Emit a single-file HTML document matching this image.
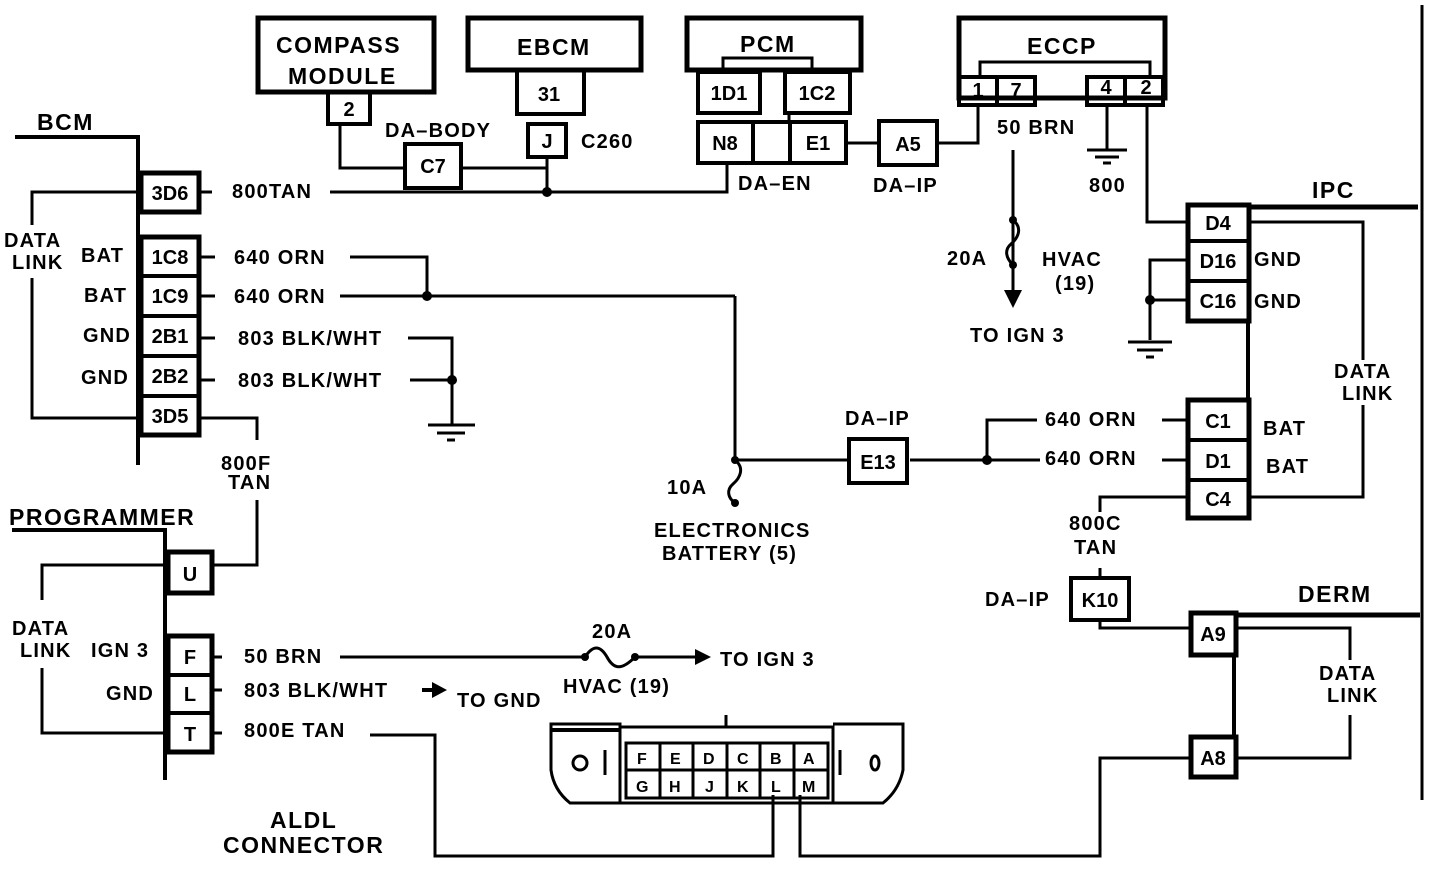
<!DOCTYPE html>
<html><head><meta charset="utf-8"><style>
html,body{margin:0;padding:0;background:#fff;}
svg{display:block;}
text{font-family:"Liberation Sans",sans-serif;font-weight:bold;fill:#000;}
.l{font-size:20px;letter-spacing:1.2px;}
.t{font-size:23px;letter-spacing:1.5px;}
.p{font-size:20px;text-anchor:middle;}
</style></head><body>
<svg width="1440" height="884" viewBox="0 0 1440 884" xmlns="http://www.w3.org/2000/svg">
<g fill="none" stroke="#000" stroke-width="3">
<rect x="258" y="18" width="176" height="74" stroke-width="5"/>
<rect x="328" y="92" width="42" height="32" stroke-width="4"/>
<rect x="468" y="18" width="173" height="52" stroke-width="5"/>
<rect x="517" y="70" width="67" height="44" stroke-width="4"/>
<rect x="528" y="124" width="38" height="33" stroke-width="4"/>
<rect x="405" y="144" width="56" height="44" stroke-width="4"/>
<path d="M340 124V168H405M461 168H547M547 157V192"/>
<path d="M330 192H727V163" stroke-width="3"/>
<rect x="687" y="18" width="174" height="52" stroke-width="5"/>
<path d="M723 72V58H812V72"/>
<rect x="698" y="72" width="62" height="41" stroke-width="4"/>
<rect x="785" y="72" width="65" height="41" stroke-width="4"/>
<path d="M789 113V122"/>
<rect x="698" y="122" width="148" height="41" stroke-width="4"/>
<path d="M753 122V163M790 122V163" stroke-width="4"/>
<path d="M846 143H879"/>
<rect x="879" y="121" width="58" height="44" stroke-width="4"/>
<path d="M937 143H978V104"/>
<rect x="959" y="18" width="206" height="80" stroke-width="5"/>
<path d="M980 77V62H1150V77"/>
<rect x="959" y="77" width="76" height="28" stroke-width="4"/>
<path d="M997 77V105" stroke-width="4"/>
<rect x="1087" y="77" width="76" height="28" stroke-width="4"/>
<path d="M1125 77V105" stroke-width="4"/>
<path d="M1107 105V150M1087 150H1127M1095 157H1119M1103 163H1111"/>
<path d="M1013 150V300"/>
<path d="M1147 105V222H1188"/>
<rect x="1188" y="205" width="61" height="116" stroke-width="5"/>
<path d="M1188 241H1249M1188 281H1249" stroke-width="4"/>
<path d="M1249 207H1418" stroke-width="5"/>
<path d="M1249 222H1363V360M1363 405V497H1249"/>
<path d="M1188 260H1150V340M1150 300H1188M1128 342H1172M1137 350H1163M1146 357H1154"/>
<path d="M1248 321V400" stroke-width="4"/>
<rect x="1188" y="400" width="61" height="118" stroke-width="5"/>
<path d="M1188 440H1249M1188 480H1249" stroke-width="4"/>
<path d="M1422 5V800" stroke-width="3"/>
<path d="M1162 420H1188M1162 460H1188M1037 420H987V460M910 460H1040"/>
<rect x="849" y="439" width="58" height="44" stroke-width="4"/>
<path d="M735 460H849"/>
<path d="M735 296V460"/>
<path d="M735 460C745 468 740 478 733 484C726 490 728 498 735 503"/>
<path d="M1013 220C1023 228 1018 238 1011 244C1004 250 1006 258 1013 265"/>
<path d="M1188 497H1100V512"/>
<path d="M1100 568V578"/>
<rect x="1071" y="578" width="58" height="42" stroke-width="4"/>
<path d="M1100 620V628H1191"/>
<rect x="1191" y="613" width="45" height="42" stroke-width="5"/>
<rect x="1191" y="737" width="45" height="40" stroke-width="5"/>
<path d="M1236 615H1420" stroke-width="5"/>
<path d="M1234 655V737" stroke-width="4"/>
<path d="M1236 628H1350V660M1350 715V758H1236"/>
<path d="M1191 758H1100V856H800V795"/>
<path d="M15 137H138V465" stroke-width="4"/>
<rect x="141" y="173" width="58" height="39" stroke-width="5"/>
<rect x="141" y="237" width="58" height="198" stroke-width="5"/>
<path d="M141 276H199M141 316H199M141 356H199M141 396H199" stroke-width="4"/>
<path d="M141 192H32V225M32 278V418H141"/>
<path d="M199 192H212M199 257H215M199 296H215M199 338H215M199 380H215M199 418H257V440"/>
<path d="M350 257H427V296M340 296H735"/>
<path d="M408 338H452V425M410 380H452M428 425H475M437 433H465M447 440H455"/>
<path d="M12 530H165V780" stroke-width="4"/>
<rect x="168" y="552" width="44" height="41" stroke-width="5"/>
<rect x="168" y="636" width="44" height="116" stroke-width="5"/>
<path d="M168 675H212M168 713H212" stroke-width="4"/>
<path d="M212 565H257V500"/>
<path d="M165 565H42V600M42 668V733H165"/>
<path d="M212 657H222M212 690H222M212 733H222"/>
<path d="M340 657H585M635 657H695"/>
<path d="M585 657C593 645 600 645 607 657C614 670 622 670 635 657"/>
<path d="M422 690H432" stroke-width="4"/>
<path d="M370 735H435V856H773V795"/>
<path d="M551 724H620V803H570C560 795 553 785 551 770Z"/>
<path d="M551 730H620" stroke-width="4"/>
<rect x="620" y="727" width="213" height="76"/>
<path d="M833 724H903V770C900 785 893 795 883 803H833"/>
<rect x="626" y="743" width="202" height="55"/>
<path d="M626 770H828M660 743V798M693 743V798M727 743V798M760 743V798M794 743V798"/>
<path d="M726 715V727M605 750V775M840 750V775"/>
<circle cx="580" cy="763" r="7"/>
<ellipse cx="875" cy="763" rx="4" ry="7"/>
</g>
<g fill="#000">
<circle cx="547" cy="192" r="5"/><circle cx="427" cy="296" r="5"/><circle cx="452" cy="380" r="5"/>
<circle cx="987" cy="460" r="5"/><circle cx="1150" cy="300" r="5"/>
<circle cx="735" cy="460" r="4"/><circle cx="735" cy="503" r="4"/>
<circle cx="1013" cy="220" r="4"/><circle cx="1013" cy="265" r="4"/>
<circle cx="585" cy="657" r="4"/><circle cx="635" cy="657" r="4"/>
<path d="M1004 290H1022L1013 308Z"/>
<path d="M695 649V665L711 657Z"/>
<path d="M432 682V698L447 690Z"/>
</g>
<text class="t" x="276" y="53">COMPASS</text>
<text class="t" x="288" y="84">MODULE</text>
<text class="t" x="517" y="55">EBCM</text>
<text class="t" x="740" y="52">PCM</text>
<text class="t" x="1027" y="54">ECCP</text>
<text class="t" x="37" y="130">BCM</text>
<text class="t" x="1312" y="198">IPC</text>
<text class="t" x="1298" y="602">DERM</text>
<text class="t" x="9" y="525">PROGRAMMER</text>
<text class="t" x="270" y="828">ALDL</text>
<text class="t" x="223" y="853">CONNECTOR</text>
<text class="p" x="349" y="116">2</text>
<text class="p" x="549" y="101">31</text>
<text class="p" x="547" y="148">J</text>
<text class="p" x="433" y="173">C7</text>
<text class="p" x="729" y="100">1D1</text>
<text class="p" x="817" y="100">1C2</text>
<text class="p" x="725" y="150">N8</text>
<text class="p" x="818" y="150">E1</text>
<text class="p" x="908" y="151">A5</text>
<text class="p" x="978" y="97">1</text>
<text class="p" x="1016" y="97">7</text>
<text class="p" x="1106" y="94">4</text>
<text class="p" x="1146" y="94">2</text>
<text class="p" x="1218" y="230">D4</text>
<text class="p" x="1218" y="268">D16</text>
<text class="p" x="1218" y="308">C16</text>
<text class="p" x="1218" y="428">C1</text>
<text class="p" x="1218" y="468">D1</text>
<text class="p" x="1218" y="506">C4</text>
<text class="p" x="878" y="469">E13</text>
<text class="p" x="1100" y="607">K10</text>
<text class="p" x="1213" y="641">A9</text>
<text class="p" x="1213" y="765">A8</text>
<text class="p" x="170" y="200">3D6</text>
<text class="p" x="170" y="264">1C8</text>
<text class="p" x="170" y="303">1C9</text>
<text class="p" x="170" y="343">2B1</text>
<text class="p" x="170" y="383">2B2</text>
<text class="p" x="170" y="423">3D5</text>
<text class="p" x="190" y="581">U</text>
<text class="p" x="190" y="664">F</text>
<text class="p" x="190" y="701">L</text>
<text class="p" x="190" y="741">T</text>
<g style="font-size:16px;font-weight:normal">
<text x="637" y="764">F</text><text x="670" y="764">E</text><text x="703" y="764">D</text><text x="737" y="764">C</text><text x="770" y="764">B</text><text x="803" y="764">A</text>
<text x="636" y="792">G</text><text x="669" y="792">H</text><text x="705" y="792">J</text><text x="737" y="792">K</text><text x="771" y="792">L</text><text x="802" y="792">M</text>
</g>
<g class="l">
<text x="385" y="137">DA–BODY</text>
<text x="581" y="148">C260</text>
<text x="232" y="198">800TAN</text>
<text x="738" y="190">DA–EN</text>
<text x="873" y="192">DA–IP</text>
<text x="997" y="134">50 BRN</text>
<text x="1089" y="192">800</text>
<text x="947" y="265">20A</text>
<text x="1042" y="266">HVAC</text>
<text x="1055" y="290">(19)</text>
<text x="970" y="342">TO IGN 3</text>
<text x="1254" y="266">GND</text>
<text x="1254" y="308">GND</text>
<text x="1334" y="378">DATA</text>
<text x="1342" y="400">LINK</text>
<text x="1263" y="435">BAT</text>
<text x="1266" y="473">BAT</text>
<text x="1045" y="426">640 ORN</text>
<text x="1045" y="465">640 ORN</text>
<text x="845" y="425">DA–IP</text>
<text x="667" y="494">10A</text>
<text x="654" y="537">ELECTRONICS</text>
<text x="662" y="560">BATTERY (5)</text>
<text x="1069" y="530">800C</text>
<text x="1074" y="554">TAN</text>
<text x="985" y="606">DA–IP</text>
<text x="1319" y="680">DATA</text>
<text x="1327" y="702">LINK</text>
<text x="4" y="247">DATA</text>
<text x="12" y="269">LINK</text>
<text x="81" y="262">BAT</text>
<text x="84" y="302">BAT</text>
<text x="83" y="342">GND</text>
<text x="81" y="384">GND</text>
<text x="234" y="264">640 ORN</text>
<text x="234" y="303">640 ORN</text>
<text x="238" y="345">803 BLK/WHT</text>
<text x="238" y="387">803 BLK/WHT</text>
<text x="221" y="470">800F</text>
<text x="228" y="489">TAN</text>
<text x="12" y="635">DATA</text>
<text x="20" y="657">LINK</text>
<text x="91" y="657">IGN 3</text>
<text x="106" y="700">GND</text>
<text x="244" y="663">50 BRN</text>
<text x="244" y="697">803 BLK/WHT</text>
<text x="457" y="707">TO GND</text>
<text x="244" y="737">800E TAN</text>
<text x="592" y="638">20A</text>
<text x="563" y="693">HVAC (19)</text>
<text x="720" y="666">TO IGN 3</text>
</g>
</svg>
</body></html>
